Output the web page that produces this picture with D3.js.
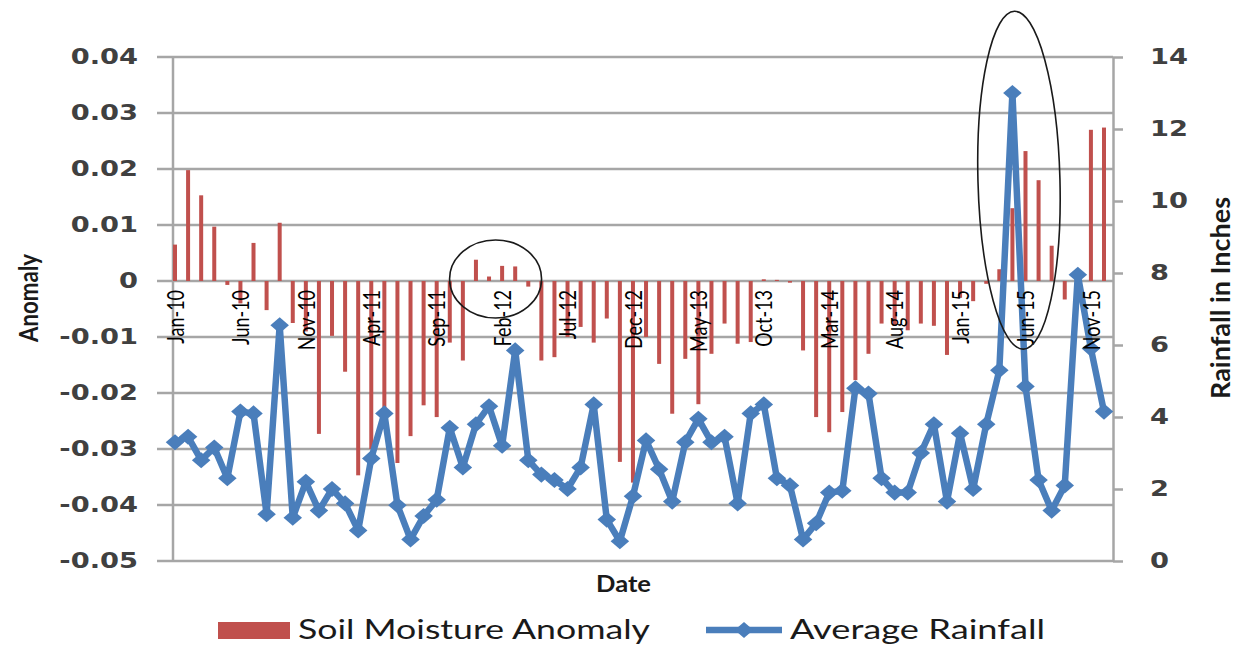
<!DOCTYPE html>
<html>
<head>
<meta charset="utf-8">
<script src="https://cdn.jsdelivr.net/npm/d3@7"></script>
<style>
  body { margin: 0; background: #fff; }
  text { font-family: Lato, "DejaVu Sans", sans-serif; }
</style>
</head>
<body>
<svg width="1245" height="646"></svg>
<script>
var months = [
  "Jan-10","Feb-10","Mar-10","Apr-10","May-10","Jun-10","Jul-10","Aug-10","Sep-10","Oct-10","Nov-10","Dec-10",
  "Jan-11","Feb-11","Mar-11","Apr-11","May-11","Jun-11","Jul-11","Aug-11","Sep-11","Oct-11","Nov-11","Dec-11",
  "Jan-12","Feb-12","Mar-12","Apr-12","May-12","Jun-12","Jul-12","Aug-12","Sep-12","Oct-12","Nov-12","Dec-12",
  "Jan-13","Feb-13","Mar-13","Apr-13","May-13","Jun-13","Jul-13","Aug-13","Sep-13","Oct-13","Nov-13","Dec-13",
  "Jan-14","Feb-14","Mar-14","Apr-14","May-14","Jun-14","Jul-14","Aug-14","Sep-14","Oct-14","Nov-14","Dec-14",
  "Jan-15","Feb-15","Mar-15","Apr-15","May-15","Jun-15","Jul-15","Aug-15","Sep-15","Oct-15","Nov-15","Dec-15"
];
var tickLabels = ["Jan-10","Jun-10","Nov-10","Apr-11","Sep-11","Feb-12","Jul-12","Dec-12",
                  "May-13","Oct-13","Mar-14","Aug-14","Jan-15","Jun-15","Nov-15"];

// soil moisture anomaly (left axis)
var anomaly = [
  0.0065, 0.0198, 0.0153, 0.0097, -0.0007, -0.004, 0.0068, -0.0052, 0.0104, -0.0075, -0.009, -0.0273,
  -0.0098, -0.0162, -0.0347, -0.030, -0.026, -0.0325, -0.0277, -0.0222, -0.0243, -0.011, -0.0142, 0.0038,
  0.0008, 0.0027, 0.0026, -0.001, -0.0142, -0.0136, -0.010, -0.0082, -0.011, -0.0067, -0.0323, -0.036,
  -0.010, -0.0148, -0.0237, -0.0139, -0.022, -0.013, -0.0076, -0.0112, -0.0109, 0.0003, 0.0002, -0.0003,
  -0.0124, -0.0243, -0.027, -0.0234, -0.0177, -0.013, -0.0076, -0.008, -0.0088, -0.0076, -0.008, -0.0132,
  -0.003, -0.0036, -0.0005, 0.0021, 0.013, 0.0232, 0.018, 0.0063, -0.0033, 0.0, 0.027, 0.0274
];
// average rainfall in inches (right axis)
var rainfall = [
  3.3, 3.45, 2.8, 3.15, 2.3, 4.15, 4.1, 1.3, 6.55, 1.2, 2.2, 1.4,
  2.0, 1.6, 0.85, 2.85, 4.1, 1.55, 0.6, 1.25, 1.7, 3.7, 2.6, 3.8,
  4.3, 3.2, 5.85, 2.8, 2.4, 2.25, 2.0, 2.6, 4.35, 1.15, 0.55, 1.8,
  3.35, 2.55, 1.65, 3.3, 3.95, 3.3, 3.45, 1.6, 4.1, 4.35, 2.3, 2.1,
  0.6, 1.05, 1.9, 1.95, 4.8, 4.65, 2.3, 1.9, 1.9, 3.0, 3.8, 1.65,
  3.55, 2.0, 3.8, 5.3, 13.0, 4.85, 2.25, 1.4, 2.1, 7.95, 5.9, 4.15
];
var anomalyTicks = [0.04, 0.03, 0.02, 0.01, 0, -0.01, -0.02, -0.03, -0.04, -0.05];
var rainTicks = [0, 2, 4, 6, 8, 10, 12, 14];

var svg = d3.select("svg"),
  plotLeft = 173, plotRight = 1113, plotTop = 57, plotBottom = 561,
  stretch = 1.3; // the picture is wide, so text is stretched sideways

var x = d3.scalePoint().domain(months).range([plotLeft + 2, plotRight - 9]);
var yL = d3.scaleLinear().domain([-0.05, 0.04]).range([plotBottom, plotTop]);
var yR = d3.scaleLinear().domain([0, 14]).range([plotBottom, plotTop]);

// grid lines, pushed out past the left axis like excel tick marks
svg.append("g").selectAll("line")
  .data(anomalyTicks)
  .enter().append("line")
  .attr("x1", plotLeft - 16).attr("x2", plotRight)
  .attr("y1", function(d) { return yL(d); })
  .attr("y2", function(d) { return yL(d); })
  .attr("stroke", "#a6a6a6").attr("stroke-width", 2.5);

svg.append("line")
  .attr("x1", plotLeft).attr("x2", plotLeft).attr("y1", plotTop).attr("y2", plotBottom)
  .attr("stroke", "#a6a6a6").attr("stroke-width", 2.5);

// left axis labels (plain hyphen for the minus sign, as excel does)
var gl = svg.append("g").attr("transform", "translate(" + plotLeft + ",0)")
  .call(d3.axisLeft(yL).tickValues(anomalyTicks).tickSize(0)
    .tickFormat(function(d) { return String(d); }));
gl.select(".domain").remove();
gl.selectAll("text")
  .attr("x", 0)
  .attr("transform", "translate(-35,0) scale(" + stretch + ",1)")
  .attr("fill", "#404040")
  .style("font-family", "'DejaVu Sans', sans-serif")
  .style("font-size", "21px").style("font-weight", "bold");

// right axis
var gr = svg.append("g").attr("transform", "translate(" + plotRight + ",0)")
  .call(d3.axisRight(yR).tickValues(rainTicks).tickSize(10).tickSizeOuter(0));
gr.select(".domain").attr("stroke", "#a6a6a6").attr("stroke-width", 2.5);
gr.selectAll(".tick line").attr("stroke", "#a6a6a6").attr("stroke-width", 2.5);
gr.selectAll("text")
  .attr("x", 0)
  .attr("transform", "translate(37,0) scale(" + stretch + ",1)")
  .attr("fill", "#404040")
  .style("font-family", "'DejaVu Sans', sans-serif")
  .style("font-size", "21px").style("font-weight", "bold");

// soil moisture bars
svg.append("g").selectAll("rect")
  .data(anomaly)
  .enter().append("rect")
  .attr("x", function(d, i) { return x(months[i]) - 2; })
  .attr("width", 4)
  .attr("y", function(d) { return Math.min(yL(d), yL(0)); })
  .attr("height", function(d) { return Math.abs(yL(d) - yL(0)); })
  .attr("fill", "#c0504d");

// rainfall line
var line = d3.line()
  .x(function(d, i) { return x(months[i]); })
  .y(function(d) { return yR(d); });

svg.append("path")
  .datum(rainfall)
  .attr("d", line)
  .attr("fill", "none")
  .attr("stroke", "#4a7ebb")
  .attr("stroke-width", 6.5)
  .attr("stroke-linejoin", "round");

var diamond = d3.symbol().type(d3.symbolSquare).size(130);
svg.append("g").selectAll("path")
  .data(rainfall)
  .enter().append("path")
  .attr("d", diamond)
  .attr("transform", function(d, i) {
    return "translate(" + x(months[i]) + "," + yR(d) + ") scale(1.15,1) rotate(45)";
  })
  .attr("fill", "#4a7ebb");

// month labels sitting on the zero line, drawn over the series
var gx = svg.append("g").attr("transform", "translate(0," + (yL(0) + 9) + ")")
  .call(d3.axisBottom(x).tickValues(tickLabels).tickSize(0));
gx.select(".domain").remove();
gx.selectAll("text")
  .attr("y", 0).attr("dy", "0.35em")
  .attr("transform", "scale(" + stretch + ",1) rotate(-90)")
  .attr("x", 0)
  .style("text-anchor", "end")
  .style("font-family", "Lato, sans-serif")
  .style("font-size", "18px")
  .attr("fill", "#000");

// highlight ellipses
svg.append("ellipse")
  .attr("cx", (x("Jan-12") + x("Feb-12")) / 2)
  .attr("cy", yL(0) - 2)
  .attr("rx", 46).attr("ry", 39)
  .attr("fill", "none").attr("stroke", "#1a1a1a").attr("stroke-width", 1.6);

var bigX = (x("May-15") + x("Jun-15")) / 2;
svg.append("ellipse")
  .attr("cx", bigX)
  .attr("cy", yL(0.018))
  .attr("rx", 41).attr("ry", 169)
  .attr("transform", "rotate(-1.5," + bigX + "," + yL(0.018) + ")")
  .attr("fill", "none").attr("stroke", "#1a1a1a").attr("stroke-width", 1.6);

// axis titles
svg.append("text")
  .attr("transform", "translate(38,298) scale(" + stretch + ",1) rotate(-90)")
  .attr("text-anchor", "middle")
  .attr("textLength", 88).attr("lengthAdjust", "spacingAndGlyphs")
  .style("font-size", "21px").style("font-weight", "bold")
  .attr("fill", "#1a1a1a")
  .text("Anomaly");

svg.append("text")
  .attr("transform", "translate(1230,298) scale(" + stretch + ",1) rotate(-90)")
  .attr("text-anchor", "middle")
  .attr("textLength", 202).attr("lengthAdjust", "spacingAndGlyphs")
  .style("font-size", "21px").style("font-weight", "bold")
  .attr("fill", "#1a1a1a")
  .text("Rainfall in Inches");

svg.append("text")
  .attr("x", 596).attr("y", 592)
  .attr("textLength", 55).attr("lengthAdjust", "spacingAndGlyphs")
  .style("font-size", "22px").style("font-weight", "bold")
  .attr("fill", "#1a1a1a")
  .text("Date");

// legend
var legend = svg.append("g").attr("transform", "translate(0,630)");
legend.append("rect")
  .attr("x", 218).attr("y", -8).attr("width", 72).attr("height", 17)
  .attr("fill", "#c0504d");
legend.append("text")
  .attr("x", 298).attr("y", 9)
  .attr("textLength", 352).attr("lengthAdjust", "spacingAndGlyphs")
  .style("font-size", "26px").attr("fill", "#1a1a1a")
  .text("Soil Moisture Anomaly");
legend.append("line")
  .attr("x1", 706).attr("x2", 782).attr("y1", 0).attr("y2", 0)
  .attr("stroke", "#4a7ebb").attr("stroke-width", 6.5);
legend.append("path")
  .attr("d", diamond)
  .attr("transform", "translate(744,0) scale(1.15,1) rotate(45)")
  .attr("fill", "#4a7ebb");
legend.append("text")
  .attr("x", 790).attr("y", 9)
  .attr("textLength", 255).attr("lengthAdjust", "spacingAndGlyphs")
  .style("font-size", "26px").attr("fill", "#1a1a1a")
  .text("Average Rainfall");
</script>
</body>
</html>
